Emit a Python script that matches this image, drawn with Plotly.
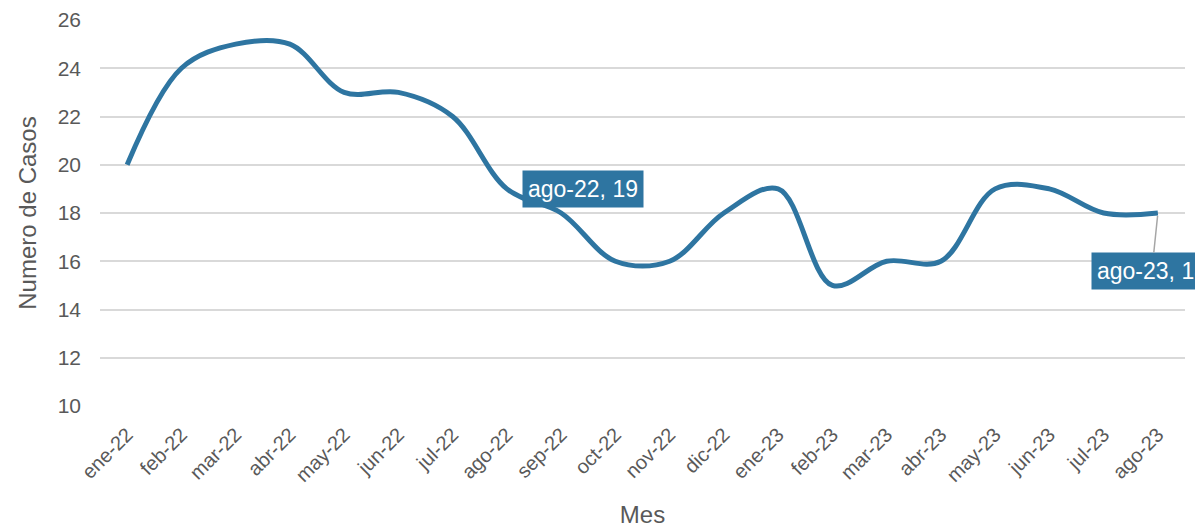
import plotly.graph_objects as go

meses = ["ene-22", "feb-22", "mar-22", "abr-22", "may-22", "jun-22", "jul-22", "ago-22",
         "sep-22", "oct-22", "nov-22", "dic-22", "ene-23", "feb-23", "mar-23", "abr-23",
         "may-23", "jun-23", "jul-23", "ago-23"]
casos = [20, 24, 25, 25, 23, 23, 22, 19, 18, 16, 16, 18, 19, 15, 16, 16, 19, 19, 18, 18]
y_ticks = [10, 12, 14, 16, 18, 20, 22, 24, 26]

color = "#2E75A1"
grey = "#595959"
fig = go.Figure()
fig.add_trace(go.Scatter(
    x=list(range(len(meses))), y=casos, mode="lines",
    line=dict(color=color, width=5, shape="spline", smoothing=1.0),
    hoverinfo="x+y",
))

i1 = meses.index("ago-22")
i2 = meses.index("ago-23")
lab_font = dict(color="white", size=23, family="Liberation Sans")
fig.add_annotation(x=i1, y=casos[i1], xref="x", yref="y", text=f"{meses[i1]}, {casos[i1]}",
                   showarrow=False, xanchor="left", xshift=15,
                   bgcolor=color, font=lab_font, borderpad=5)
fig.add_annotation(x=i2, y=casos[i2], xref="x", yref="y", text=f"{meses[i2]}, {casos[i2]}",
                   showarrow=True, arrowhead=0, arrowcolor="#A6A6A6", arrowwidth=1.5,
                   ax=-6, ay=58, standoff=3,
                   bgcolor=color, font=lab_font, borderpad=5)

fig.update_layout(
    width=1195, height=520,
    margin=dict(l=92, r=18, t=12, b=122),
    plot_bgcolor="white", paper_bgcolor="white",
    showlegend=False,
    font=dict(family="Liberation Sans", color=grey),
    xaxis=dict(
        tickmode="array", tickvals=list(range(len(meses))), ticktext=meses,
        range=[-0.5, len(meses) - 0.5], tickangle=-45,
        tickfont=dict(size=20, color=grey), ticklabelstandoff=12,
        showgrid=False, zeroline=False, showline=False, automargin=False,
        title=dict(text="Mes", font=dict(size=24, color=grey), standoff=24),
    ),
    yaxis=dict(
        range=[10, 26], tickvals=y_ticks,
        tickfont=dict(size=21, color=grey), ticklabelstandoff=18,
        showgrid=True, gridcolor="#D9D9D9", gridwidth=2, zeroline=False,
        ticks="", ticklen=0, automargin=False,
        title=dict(text="Numero de Casos", font=dict(size=24, color=grey), standoff=14),
    ),
)

fig.write_html("out.html")
